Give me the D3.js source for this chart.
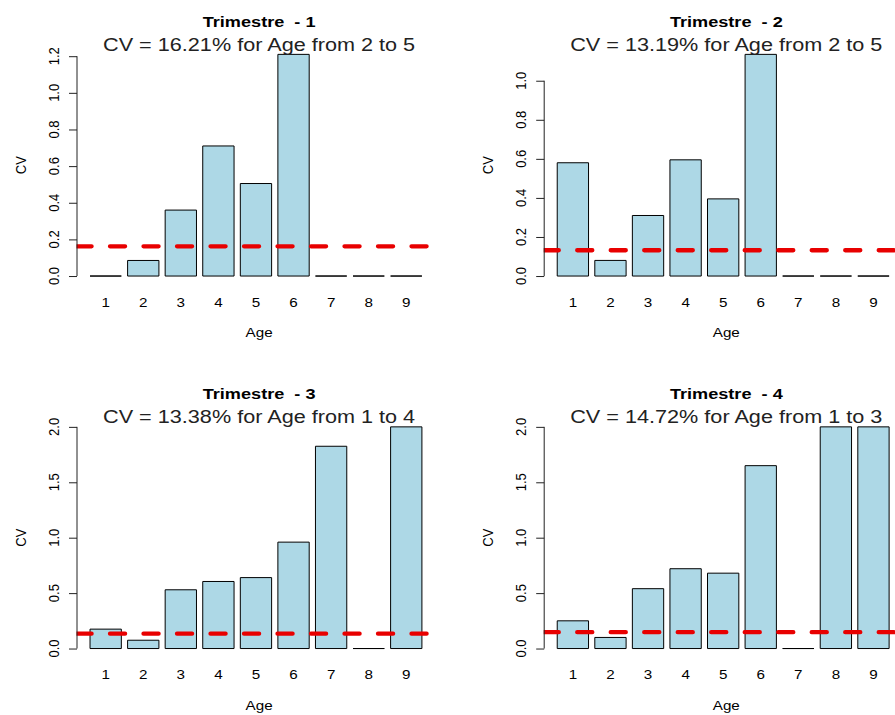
<!DOCTYPE html>
<html>
<head>
<meta charset="utf-8">
<script src="https://cdn.jsdelivr.net/npm/d3@7"></script>
<style>
  html, body { margin: 0; padding: 0; background: #fff; }
  svg { display: block; font-family: "Liberation Sans", Arial, Helvetica, sans-serif; }
</style>
</head>
<body>
<script>
// Age classes shown on the x axis
const ages = [1, 2, 3, 4, 5, 6, 7, 8, 9];

// Coefficient of variation per age, one array per quarter
const trimestre1 = [0, 0.085, 0.36, 0.71, 0.505, 1.21, 0, 0, 0];
const trimestre2 = [0.58, 0.08, 0.31, 0.595, 0.395, 1.135, 0, 0, 0];
const trimestre3 = [0.175, 0.075, 0.53, 0.605, 0.64, 0.96, 1.825, 0, 2.0];
const trimestre4 = [0.25, 0.10, 0.54, 0.72, 0.68, 1.65, 0, 2.0, 2.0];

// Mean CV over the selected age range (dashed reference line)
const cvMean = [0.1621, 0.1319, 0.1338, 0.1472];
const ageFrom = [2, 2, 1, 1];
const ageTo = [5, 5, 4, 3];

// y-axis tick values per panel
const ticks1 = [0, 0.2, 0.4, 0.6, 0.8, 1.0, 1.2];
const ticks2 = [0, 0.2, 0.4, 0.6, 0.8, 1.0];
const ticks3 = [0, 0.5, 1.0, 1.5, 2.0];
const ticks4 = [0, 0.5, 1.0, 1.5, 2.0];

const quarters = [1, 2, 3, 4];
const series = [trimestre1, trimestre2, trimestre3, trimestre4];
const tickSets = [ticks1, ticks2, ticks3, ticks4];

const W = 895, H = 715;
const SX = 1.17;            // horizontal stretch applied to text glyphs
const plotW = 365.2, plotH = 239.4;
const colX = [76.5, 543.7];
const rowY = [45.5, 418];

const svg = d3.select("body").append("svg")
  .attr("width", W).attr("height", H)
  .attr("viewBox", `0 0 ${W} ${H}`);

function label(g, x, y, str, opts = {}) {
  return g.append("text")
    .attr("transform", `translate(${x},${y}) scale(${SX},1)` + (opts.rotate ? " rotate(-90)" : ""))
    .attr("text-anchor", "middle")
    .attr("font-size", opts.size || 13)
    .attr("font-weight", opts.bold ? "bold" : "normal")
    .attr("fill", opts.fill || "#000")
    .style("white-space", "pre")
    .text(str);
}

series.forEach((values, i) => {
  const x0 = colX[i % 2], y0 = rowY[Math.floor(i / 2)];
  const g = svg.append("g");

  // barplot geometry: width 1, space 0.2, 4% axis padding
  const xMax = 0.2 + 1.2 * values.length;
  const xPad = 0.04 * (xMax - 0.2);
  const x = d3.scaleLinear().domain([0.2 - xPad, xMax + xPad]).range([x0, x0 + plotW]);
  const yMax = d3.max(values);
  const y = d3.scaleLinear().domain([-0.04 * yMax, 1.04 * yMax]).range([y0 + plotH, y0]);

  const clipId = "clip" + i;
  svg.append("clipPath").attr("id", clipId)
    .append("rect").attr("x", x0).attr("y", y0).attr("width", plotW).attr("height", plotH);

  // bars (paths so that zero-height bars still show as a line)
  g.selectAll("path.bar").data(values).join("path")
    .attr("class", "bar")
    .attr("d", (v, k) => {
      const l = x(0.2 + 1.2 * k), r = x(1.2 + 1.2 * k);
      const b = y(0), t = y(v);
      return `M${l},${b}H${r}V${t}H${l}Z`;
    })
    .attr("fill", "#ADD8E6")
    .attr("stroke", "#000")
    .attr("stroke-width", 1);

  // mean CV dashed line
  g.append("line")
    .attr("clip-path", `url(#${clipId})`)
    .attr("x1", x0).attr("x2", x0 + plotW)
    .attr("y1", y(cvMean[i])).attr("y2", y(cvMean[i]))
    .attr("stroke", "#e80000")
    .attr("stroke-width", 4.3)
    .attr("stroke-linecap", "round")
    .attr("stroke-dasharray", "15.1 18.4");

  // y axis
  const tks = tickSets[i];
  const axis = d3.axisLeft(y).tickValues(tks).tickSize(8).tickFormat(d3.format(".1f"));
  const ag = g.append("g").attr("transform", `translate(${x0},0)`).call(axis);
  ag.select(".domain").attr("d", `M0.5,${y(tks[0])}V${y(tks[tks.length - 1])}`)
    .attr("stroke", "#222");
  ag.selectAll(".tick line").attr("stroke", "#222").attr("x1", 0.5).attr("x2", -7.5);
  ag.selectAll(".tick text").remove();
  tks.forEach(t => label(g, x0 - 17.5, y(t), d3.format(".1f")(t), { rotate: true, size: 13 }));

  // x category labels
  ages.forEach((a, k) => label(g, x(0.7 + 1.2 * k), y0 + plotH + 22, String(a), { size: 13 }));

  // axis titles
  label(g, x0 + plotW / 2, y0 + plotH + 52.5, "Age", { size: 13 });
  label(g, x0 - 51, y0 + plotH / 2, "CV", { rotate: true, size: 13 });

  // titles
  label(g, x0 + plotW / 2, y0 - 18.8, "Trimestre  - " + quarters[i], { size: 15.5, bold: true });
  label(g, x0 + plotW / 2, y0 + 5, `CV = ${(cvMean[i] * 100).toFixed(2)}% for Age from ${ageFrom[i]} to ${ageTo[i]}`,
    { size: 18.5, fill: "#222" });
});
</script>
</body>
</html>
